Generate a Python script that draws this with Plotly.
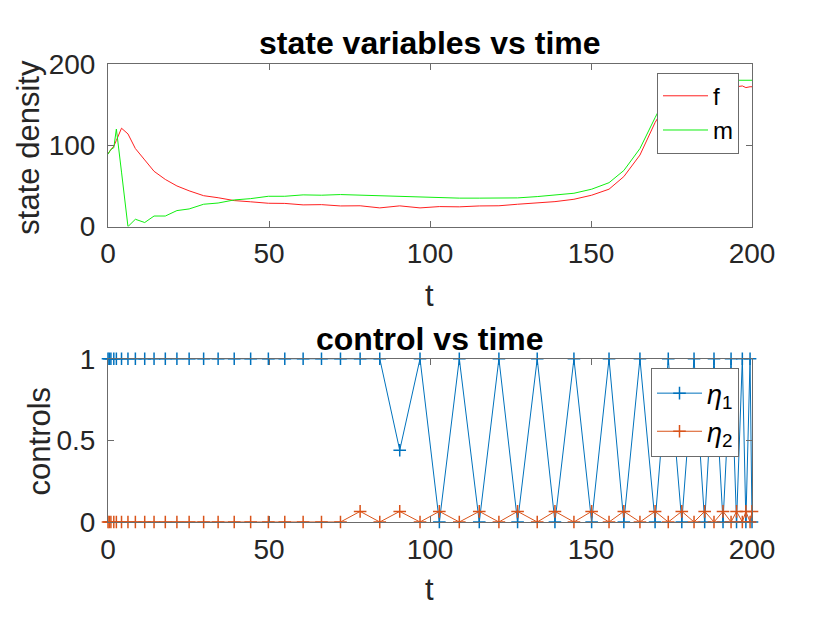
import plotly.graph_objects as go

# time grid (same for states and controls)
t = [0, 0.4, 0.9, 1.8, 2.6, 4.2, 6.2, 8.5, 11.4, 14.3, 17.8, 21.4, 25.2, 29.7,
     34.2, 39.2, 44.3, 49.8, 54.9, 60.6, 66.3, 72.2, 78.3, 84.4, 90.6, 96.9,
     102.9, 109.1, 115.3, 121.4, 127.2, 133.3, 138.8, 144.7, 150.2, 155.6,
     160.2, 165.2, 169.9, 174.0, 178.2, 182.0, 185.3, 188.2, 191.0, 193.5,
     195.2, 197.0, 198.1, 199.4, 200.0]

# state variables
f = [90, 92, 95, 99, 106, 121, 114, 96, 82, 68, 58, 50, 44, 38,
     35.5, 32, 30.5, 28.7, 28.5, 26.7, 27, 25.4, 25.6, 23, 25.5, 23,
     24.6, 24.3, 25.4, 25.6, 27.5, 28.7, 30.7, 33.6, 38.6, 46,
     61.5, 88, 128, 155, 168, 172, 172, 173, 172, 173,
     172, 173, 171, 172, 172]
m = [89, 92, 95, 97, 120, 67, 0, 9, 5, 13, 13, 19.7, 21.7, 27.5,
     29, 32.8, 34.4, 37.3, 37.3, 39, 38.6, 39.4, 38.6, 38.2, 36.9, 36.9,
     35.7, 35, 35, 35.3, 35.3, 36.9, 38.6, 41, 46, 54,
     69, 96, 134, 165, 177, 180, 180, 180, 180, 180,
     180, 180, 180, 180, 180]

# controls
eta1 = [1, 1, 1, 1, 1, 1, 1, 1, 1, 1, 1, 1, 1, 1,
        1, 1, 1, 1, 1, 1, 1, 1, 1, 1, 0.44, 1,
        0, 1, 0, 1, 0, 1, 0, 1, 0, 1,
        0, 1, 0, 1, 0, 1, 0, 1, 0, 1,
        0, 1, 0, 1, 0]
eta2 = [0, 0, 0, 0, 0, 0, 0, 0, 0, 0, 0, 0, 0, 0,
        0, 0, 0, 0, 0, 0, 0, 0, 0.065, 0, 0.065, 0,
        0.065, 0, 0.065, 0, 0.065, 0, 0.065, 0, 0.065, 0,
        0.065, 0, 0.065, 0, 0.065, 0, 0.065, 0, 0.065, 0,
        0.065, 0, 0.065, 0, 0.065]

W, H = 830, 623
OFF = 8  # page body margin, screen px -> figure px
# plot area in screen pixels
X0, X1, Y0, Y1 = 108.3, 752.3, 64, 522.3
L, T = X0 - OFF, Y0 - OFF
R, B = W - (X1 - OFF), H - (Y1 - OFF)
FONT = "Liberation Sans, Arial, sans-serif"
INK = "#262626"
AX = "#6b6b6b"


def px(x):
    # screen x -> paper
    return (x - X0) / (X1 - X0)


def py(y):
    # screen y -> paper
    return (Y1 - y) / (Y1 - Y0)


fig = go.Figure()

fig.add_trace(go.Scatter(x=t, y=f, mode="lines", name="f",
                         line=dict(color="#ff2020", width=1),
                         xaxis="x", yaxis="y", legend="legend"))
fig.add_trace(go.Scatter(x=t, y=m, mode="lines", name="m",
                         line=dict(color="#10ee10", width=1),
                         xaxis="x", yaxis="y", legend="legend"))

fig.add_trace(go.Scatter(x=t, y=eta1, mode="lines+markers",
                         name="<i>η</i><sub>1</sub>",
                         line=dict(color="#0072BD", width=1),
                         marker=dict(symbol="cross-thin", size=9,
                                     line=dict(color="#0072BD", width=1.5)),
                         cliponaxis=False,
                         xaxis="x2", yaxis="y2", legend="legend2"))
fig.add_trace(go.Scatter(x=t, y=eta2, mode="lines+markers",
                         name="<i>η</i><sub>2</sub>",
                         line=dict(color="#D95319", width=1),
                         marker=dict(symbol="cross-thin", size=9,
                                     line=dict(color="#D95319", width=1.5)),
                         cliponaxis=False,
                         xaxis="x2", yaxis="y2", legend="legend2"))

axis_style = dict(showline=True, linecolor=AX, linewidth=1, mirror="ticks",
                  ticks="inside", ticklen=6, tickcolor=AX, showgrid=False,
                  zeroline=False, automargin=False,
                  tickfont=dict(family=FONT, size=28, color=INK))

legend_style = dict(xanchor="right", yanchor="top", bgcolor="white",
                    bordercolor=AX, borderwidth=1, itemwidth=45)

fig.update_layout(
    width=W, height=H,
    margin=dict(l=L, r=R, t=T, b=B),
    paper_bgcolor="white", plot_bgcolor="white",
    font=dict(family=FONT, color=INK),
    xaxis=dict(domain=[0, 1], range=[0, 200], anchor="y",
               tickvals=[0, 50, 100, 150, 200], ticklabelstandoff=2,
               **axis_style),
    yaxis=dict(domain=[py(226.7), 1], range=[0, 200], anchor="x",
               tickvals=[0, 100, 200], ticklabelstandoff=6, **axis_style),
    xaxis2=dict(domain=[0, 1], range=[0, 200], anchor="y2",
                tickvals=[0, 50, 100, 150, 200], ticklabelstandoff=2,
                **axis_style),
    yaxis2=dict(domain=[0, py(359)], range=[0, 1], anchor="x2",
                tickvals=[0, 0.5, 1], ticktext=["0", "0.5", "1"],
                ticklabelstandoff=6, **axis_style),
    legend=dict(x=px(739.3), y=py(72.7),
                font=dict(family=FONT, size=24, color="black"), **legend_style),
    legend2=dict(x=px(739.3), y=py(368.3),
                 font=dict(family=FONT, size=27, color="black"), **legend_style),
    showlegend=True,
)

# titles and axis labels (screen positions)
labels = [
    ("<b>state variables vs time</b>", 430, 43, 32, 0, "black"),
    ("<b>control vs time</b>", 430, 339, 32, 0, "black"),
    ("t", 430, 296, 31, 0, INK),
    ("t", 430, 590, 31, 0, INK),
    ("state density", 29, 147, 31, -90, INK),
    ("controls", 40, 441, 31, -90, INK),
]
for text, x, y, size, ang, col in labels:
    fig.add_annotation(text=text, x=px(x), y=py(y), xref="paper", yref="paper",
                       xanchor="center", yanchor="middle", showarrow=False,
                       textangle=ang, font=dict(family=FONT, size=size, color=col))

fig.write_html("out.html")
